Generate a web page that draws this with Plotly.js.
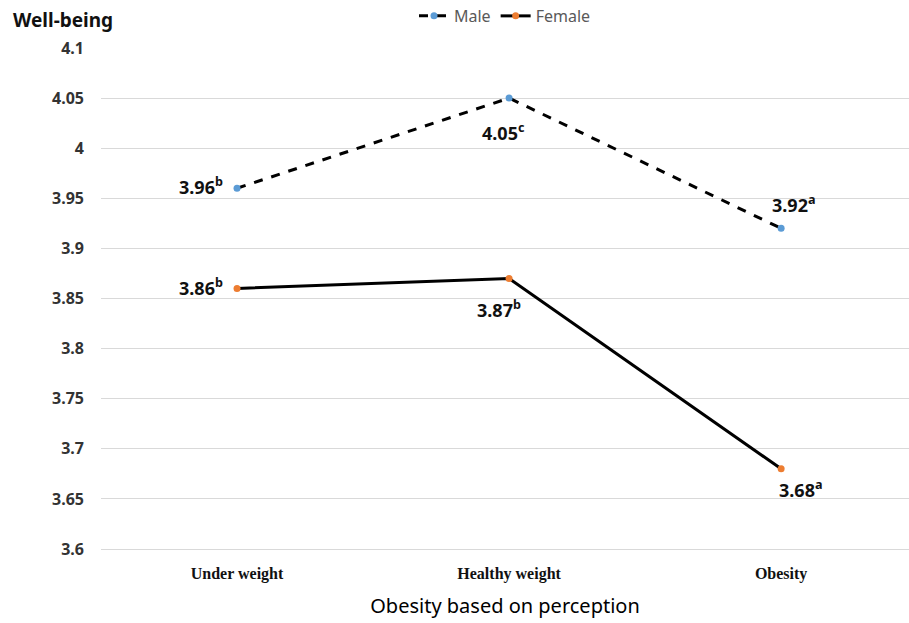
<!DOCTYPE html>
<html>
<head>
<meta charset="utf-8">
<script src="https://cdn.plot.ly/plotly-3.0.1.min.js"></script>
<style>html,body{margin:0;padding:0;background:#fff;}#chart{width:909px;height:623px;}</style>
</head>
<body>
<div id="chart"></div>
<script>
const categories = ["Under weight", "Healthy weight", "Obesity"];
const maleValues = [3.96, 4.05, 3.92];
const femaleValues = [3.86, 3.87, 3.68];
const maleLetters = ["b", "c", "a"];
const femaleLetters = ["b", "b", "a"];
const yTicks = [3.6, 3.65, 3.7, 3.75, 3.8, 3.85, 3.9, 3.95, 4, 4.05, 4.1];

const maleLabelPos = [
  {xanchor: "right", xshift: -12, yshift: 2},
  {xanchor: "center", xshift: -6, yshift: -34},
  {xanchor: "center", xshift: 13, yshift: 24}
];
const femaleLabelPos = [
  {xanchor: "right", xshift: -12, yshift: 1},
  {xanchor: "center", xshift: -10, yshift: -31},
  {xanchor: "center", xshift: 20, yshift: -20}
];

const labelFont = {family: "Noto Sans, DejaVu Sans, sans-serif", size: 18, color: "#111", weight: 700};

function makeAnnotations(values, letters, pos) {
  return values.map((v, i) => ({
    x: i, y: v, xref: "x", yref: "y",
    text: "<b>" + v.toFixed(2) + "</b><sup>" + letters[i] + "</sup>",
    showarrow: false,
    xanchor: pos[i].xanchor, yanchor: "middle",
    xshift: pos[i].xshift, yshift: pos[i].yshift,
    font: labelFont
  }));
}

const traces = [
  {
    x: [0, 1, 2], y: maleValues, name: "Male", type: "scatter", mode: "lines+markers",
    line: {color: "#000", width: 3, dash: "dash"},
    marker: {color: "#5B9BD5", size: 7}
  },
  {
    x: [0, 1, 2], y: femaleValues, name: "Female", type: "scatter", mode: "lines+markers",
    line: {color: "#000", width: 3},
    marker: {color: "#ED7D31", size: 7}
  }
];

const annotations = makeAnnotations(maleValues, maleLetters, maleLabelPos)
  .concat(makeAnnotations(femaleValues, femaleLetters, femaleLabelPos));

annotations.push({
  xref: "paper", yref: "paper", x: -0.112, y: 1.025, xanchor: "left", yanchor: "bottom",
  text: "<b>Well-being</b>", showarrow: false,
  font: {family: "Noto Sans, DejaVu Sans, sans-serif", size: 19, color: "#111"}
});

const layout = {
  width: 909, height: 623,
  margin: {l: 101, r: 0, t: 48, b: 74, autoexpand: false},
  paper_bgcolor: "#fff", plot_bgcolor: "#fff",
  showlegend: true,
  legend: {
    orientation: "h", x: 0.50, xanchor: "center", y: 1.03, yanchor: "bottom",
    font: {family: "Noto Sans, DejaVu Sans, sans-serif", size: 16, color: "#595959"},
    tracegroupgap: 0
  },
  xaxis: {
    range: [-0.5, 2.47],
    tickmode: "array", tickvals: [0, 1, 2], ticktext: categories,
    tickfont: {family: "Liberation Serif, Times New Roman, serif", size: 16, color: "#111", weight: 700},
    showgrid: false, zeroline: false, showline: true, linecolor: "#d9d9d9", linewidth: 1, ticks: "",
    ticklabelstandoff: 10,
    title: {text: "Obesity based on perception", font: {family: "Noto Sans, DejaVu Sans, sans-serif", size: 20, color: "#000"}, standoff: 16}
  },
  yaxis: {
    range: [3.6, 4.1],
    tickmode: "array", tickvals: yTicks, ticktext: yTicks.map(String),
    tickfont: {family: "Noto Sans, DejaVu Sans, sans-serif", size: 16, color: "#333", weight: 700},
    showgrid: true, gridcolor: "#d9d9d9", gridwidth: 1,
    zeroline: false, showline: false, ticks: "", ticklabelstandoff: 16
  },
  annotations: annotations
};

Plotly.newPlot("chart", traces, layout, {displayModeBar: false, staticPlot: true});
</script>
</body>
</html>
